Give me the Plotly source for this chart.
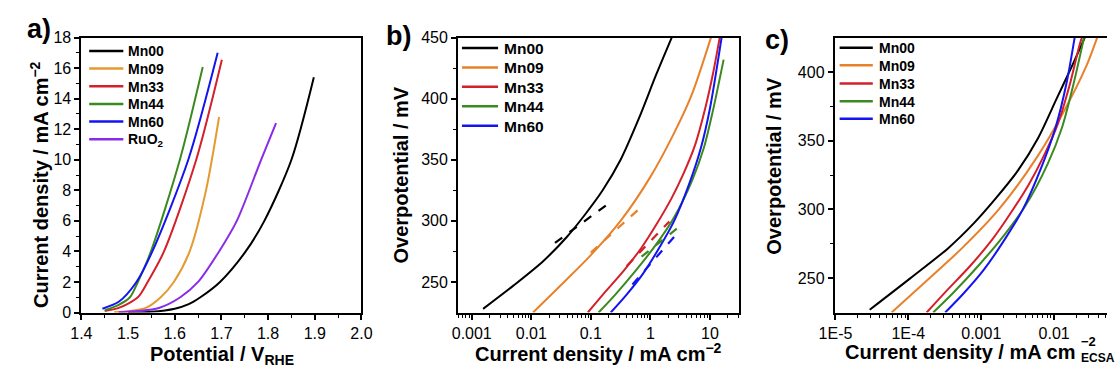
import plotly.graph_objects as go

# ---------------- Panel a: LSV curves (Potential V_RHE vs current density mA cm-2)
a_mn00_v = [1.50, 1.55, 1.60, 1.63, 1.655, 1.697, 1.752, 1.792, 1.850, 1.898]
a_mn00_j = [0.0, 0.05, 0.25, 0.55, 1.0, 2.0, 4.0, 6.0, 10.0, 15.4]
a_mn09_v = [1.47, 1.50, 1.538, 1.570, 1.598, 1.632, 1.667, 1.695]
a_mn09_j = [0.02, 0.08, 0.3, 1.0, 2.0, 4.0, 8.0, 12.8]
a_mn33_v = [1.45, 1.48, 1.521, 1.542, 1.577, 1.646, 1.701]
a_mn33_j = [0.1, 0.3, 1.0, 2.0, 4.0, 10.0, 16.55]
a_mn44_v = [1.45, 1.48, 1.504, 1.521, 1.549, 1.611, 1.660]
a_mn44_j = [0.15, 0.5, 1.0, 2.0, 4.0, 10.0, 16.07]
a_mn60_v = [1.445, 1.48, 1.518, 1.552, 1.629, 1.692]
a_mn60_j = [0.25, 0.7, 2.0, 4.0, 10.0, 17.0]
a_ruo2_v = [1.48, 1.52, 1.566, 1.612, 1.650, 1.695, 1.733, 1.785, 1.817]
a_ruo2_j = [0.02, 0.1, 0.3, 1.0, 2.0, 4.0, 6.0, 10.0, 12.4]
a_labels = ["Mn00", "Mn09", "Mn33", "Mn44", "Mn60", "RuO<sub>2</sub>"]

# ---------------- Panel b: Tafel plots (current density mA cm-2 vs overpotential mV)
b_mn00_j = [0.00155, 0.0050, 0.0158, 0.0398, 0.0794, 0.158, 0.316, 0.631, 1.26, 2.28]
b_mn00_eta = [228, 247, 267, 287, 305, 325, 350, 383, 420, 450]
b_mn09_j = [0.0107, 0.0339, 0.100, 0.316, 1.00, 2.51, 5.01, 10.4]
b_mn09_eta = [225, 249, 272, 300, 336, 372, 404, 450]
b_mn33_j = [0.089, 0.162, 0.355, 0.708, 1.26, 2.24, 3.55, 5.62, 8.32, 11.2, 14.6]
b_mn33_eta = [225, 240, 259, 278, 297, 318, 338, 362, 392, 420, 450]
b_mn44_j = [0.135, 0.251, 0.562, 1.26, 2.51, 5.01, 7.94, 11.2, 17.0]
b_mn44_eta = [225, 239, 259, 281, 303, 333, 360, 390, 432]
b_mn60_j = [0.216, 0.389, 0.733, 1.41, 2.51, 4.47, 7.08, 10.0, 15.7]
b_mn60_eta = [225, 239, 256, 278, 300, 330, 360, 392, 450]

# Tafel fit segments (dashed)
fit_mn00_j, fit_mn00_eta = [0.025, 0.216], [282, 315.5]
fit_mn09_j, fit_mn09_eta = [0.10, 0.69], [274, 311]
fit_mn33_j, fit_mn33_eta = [0.40, 2.08], [263, 299.5]
fit_mn44_j, fit_mn44_eta = [0.71, 3.02], [270.7, 295]
fit_mn60_j, fit_mn60_eta = [0.50, 3.16], [248, 292.4]

# ---------------- Panel c: ECSA-normalised Tafel plots
c_mn00_j = [2.95e-5, 1.07e-4, 3.55e-4, 7.94e-4, 1.58e-3, 3.16e-3, 6.03e-3, 1.07e-2, 1.78e-2, 2.63e-2]
c_mn00_eta = [227, 250, 272, 290, 308, 328, 352, 380, 405, 425]
c_mn09_j = [5.89e-5, 1.86e-4, 5.50e-4, 1.74e-3, 5.50e-3, 1.38e-2, 2.75e-2, 3.89e-2]
c_mn09_eta = [225, 249, 272, 300, 336, 372, 404, 425]
c_mn33_j = [1.78e-4, 3.24e-4, 7.08e-4, 1.41e-3, 2.51e-3, 4.47e-3, 7.08e-3, 1.12e-2, 1.66e-2, 2.24e-2, 2.40e-2]
c_mn33_eta = [225, 240, 259, 278, 297, 318, 338, 362, 392, 420, 425]
c_mn44_j = [2.19e-4, 4.07e-4, 9.12e-4, 2.04e-3, 4.07e-3, 8.13e-3, 1.29e-2, 1.82e-2, 2.57e-2]
c_mn44_eta = [225, 239, 259, 281, 303, 333, 360, 390, 425]
c_mn60_j = [3.20e-4, 5.75e-4, 1.08e-3, 2.09e-3, 3.72e-3, 6.61e-3, 1.05e-2, 1.48e-2, 1.91e-2]
c_mn60_eta = [225, 239, 256, 278, 300, 330, 360, 392, 425]
bc_labels = ["Mn00", "Mn09", "Mn33", "Mn44", "Mn60"]

C_BLACK = "#000000"
C_ORANGE_A = "#E59A2F"
C_ORANGE = "#E8812A"
C_RED = "#D4202A"
C_GREEN = "#3B8A1F"
C_BLUE = "#1414F0"
C_PURPLE = "#8A2BE8"
a_colors = [C_BLACK, C_ORANGE_A, C_RED, C_GREEN, C_BLUE, C_PURPLE]
bc_colors = [C_BLACK, C_ORANGE, C_RED, C_GREEN, C_BLUE]

W, H = 1118, 374
FONT = "Liberation Sans, Arial, sans-serif"

fig = go.Figure()


def add(x, y, color, xa, ya, dash="solid", width=2):
    fig.add_trace(go.Scatter(
        x=x, y=y, mode="lines", showlegend=False,
        line=dict(color=color, width=width, shape="spline", smoothing=0.8, dash=dash),
        xaxis=xa, yaxis=ya, hoverinfo="skip"))


a_series = [(a_mn00_v, a_mn00_j), (a_mn09_v, a_mn09_j), (a_mn33_v, a_mn33_j),
            (a_mn44_v, a_mn44_j), (a_mn60_v, a_mn60_j), (a_ruo2_v, a_ruo2_j)]
for (xv, yv), col in zip(a_series, a_colors):
    add(xv, yv, col, "x", "y")

b_series = [(b_mn00_j, b_mn00_eta), (b_mn09_j, b_mn09_eta), (b_mn33_j, b_mn33_eta),
            (b_mn44_j, b_mn44_eta), (b_mn60_j, b_mn60_eta)]
for (xv, yv), col in zip(b_series, bc_colors):
    add(xv, yv, col, "x2", "y2")
fits = [(fit_mn00_j, fit_mn00_eta), (fit_mn09_j, fit_mn09_eta), (fit_mn33_j, fit_mn33_eta),
        (fit_mn44_j, fit_mn44_eta), (fit_mn60_j, fit_mn60_eta)]
for (xv, yv), col in zip(fits, bc_colors):
    add(xv, yv, col, "x2", "y2", dash="dash", width=2.2)

c_series = [(c_mn00_j, c_mn00_eta), (c_mn09_j, c_mn09_eta), (c_mn33_j, c_mn33_eta),
            (c_mn44_j, c_mn44_eta), (c_mn60_j, c_mn60_eta)]
for (xv, yv), col in zip(c_series, bc_colors):
    add(xv, yv, col, "x3", "y3")


def dx(p0, p1):
    return [p0 / W, p1 / W]


def dy(top, bottom):
    return [(H - bottom) / H, (H - top) / H]


tickfont = dict(family=FONT, size=16, color="black")


def axis(**kw):
    base = dict(showline=True, linecolor="black", linewidth=2, mirror=True,
                ticks="outside", ticklen=5, tickwidth=1.5, tickcolor="black",
                showgrid=False, zeroline=False, tickfont=tickfont, fixedrange=True)
    base.update(kw)
    return base


def logminor(lo, hi):
    vals = []
    for e in range(lo, hi):
        for k in range(2, 10):
            vals.append(k * 10.0 ** e)
    return vals


def minor(vals):
    return dict(tickvals=vals, ticklen=3, ticks="outside", tickcolor="black", tickwidth=1.2)


fig.update_layout(
    width=W, height=H, margin=dict(l=0, r=0, t=0, b=0),
    paper_bgcolor="white", plot_bgcolor="white",
    font=dict(family=FONT, color="black"),
    showlegend=False,
    xaxis=axis(domain=dx(67, 354), range=[1.4, 2.0], tickvals=[1.4, 1.5, 1.6, 1.7, 1.8, 1.9, 2.0],
               ticktext=["1.4", "1.5", "1.6", "1.7", "1.8", "1.9", "2.0"],
               minor=minor([1.45, 1.55, 1.65, 1.75, 1.85, 1.95]), anchor="y"),
    yaxis=axis(domain=dy(31, 319), range=[0, 18], tickvals=list(range(0, 19, 2)),
               minor=minor(list(range(1, 18, 2))), anchor="x"),
    xaxis2=axis(type="log", domain=dx(453, 741), range=[-3.23, 1.49],
                tickvals=[0.001, 0.01, 0.1, 1, 10], ticktext=["0.001", "0.01", "0.1", "1", "10"],
                minor=minor(logminor(-4, 2)), anchor="y2"),
    yaxis2=axis(domain=dy(31, 319), range=[225, 450], tickvals=[250, 300, 350, 400, 450],
                minor=minor([275, 325, 375, 425]), anchor="x2"),
    xaxis3=axis(type="log", domain=dx(839, 1118), range=[-5.01, -1.275],
                tickvals=[1e-5, 1e-4, 1e-3, 1e-2], ticktext=["1E-5", "1E-4", "0.001", "0.01"],
                minor=minor(logminor(-6, -1)), anchor="y3"),
    yaxis3=axis(domain=dy(31, 319), range=[225, 425], tickvals=[250, 300, 350, 400], mirror=False,
                minor=minor([275, 325, 375]), anchor="x3"),
)

TF = 20


def text(t, x, y, size, angle=0, xanchor="center", yanchor="middle"):
    fig.add_annotation(text="<b>" + t + "</b>", x=x / W, y=1 - y / H, xref="paper", yref="paper",
                       showarrow=False, textangle=angle, xanchor=xanchor, yanchor=yanchor,
                       font=dict(family=FONT, size=size, color="black"))


# axis titles
text("Potential / V<sub>RHE</sub>", 211, 364, TF)
text("Current density / mA cm<sup>−2</sup>", 24, 185, TF, angle=-90)
text("Current density / mA cm<sup>−2</sup>", 597, 360.5, TF)
text("Overpotential / mV", 395, 175, TF, angle=-90)
text("Current density / mA cm", 1087, 360, TF, xanchor="right")
text("−2", 1089, 349.5, 13, xanchor="left")
text("ECSA", 1089, 366.5, 12, xanchor="left")
text("Overpotential / mV", 777, 166, TF, angle=-90)

# panel letters
text("a)", 9, 22, 27, xanchor="left")
text("b)", 377, 29, 27, xanchor="left")
text("c)", 765, 33, 27, xanchor="left")


# legends (sample line + label)
def legend(labels, colors, x0, x1, xt, ys, size):
    for lab, col, yy in zip(labels, colors, ys):
        fig.add_shape(type="line", xref="paper", yref="paper", x0=x0 / W, x1=x1 / W,
                      y0=1 - yy / H, y1=1 - yy / H, line=dict(color=col, width=2.5))
        text(lab, xt, yy + 0.5, size, xanchor="left")


legend(a_labels, a_colors, 75, 110, 113, [45, 63.5, 82, 100.5, 119, 137.5], 14)
legend(bc_labels, bc_colors, 457, 494, 498, [42, 62.3, 82.6, 103, 123.3], 15.5)
legend(bc_labels, bc_colors, 844, 878, 882, [41.7, 60, 79, 97.7, 116], 14)

fig.write_html("out.html")
